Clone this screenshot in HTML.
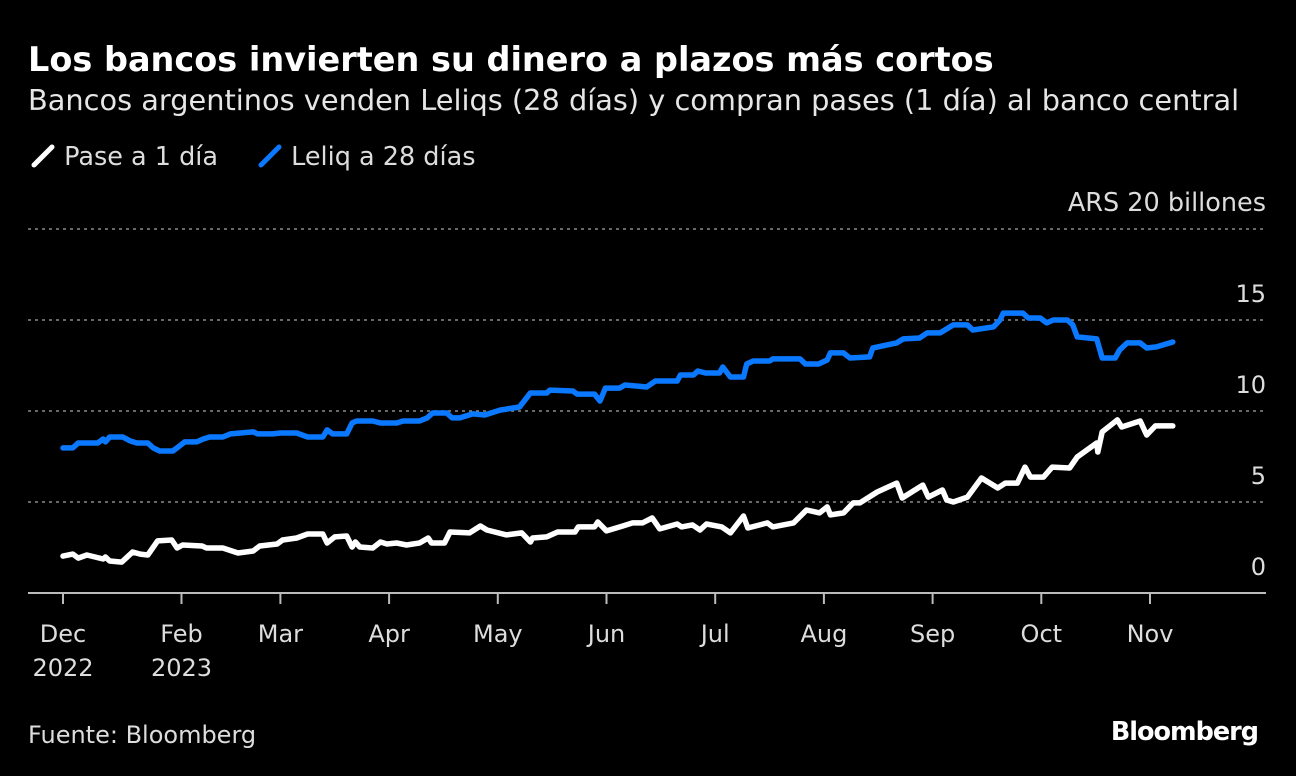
<!DOCTYPE html>
<html><head><meta charset="utf-8"><style>
body{margin:0;background:#000;width:1296px;height:776px;overflow:hidden;font-family:"DejaVu Sans",sans-serif;color:#e6e6e6}
.t{position:absolute;white-space:nowrap}
</style></head><body>
<div class="t" style="left:28px;top:40px;font-size:33.5px;font-weight:bold;color:#fff">Los bancos invierten su dinero a plazos más cortos</div>
<div class="t" style="left:28px;top:83px;font-size:28.8px;color:#e6e6e6">Bancos argentinos venden Leliqs (28 días) y compran pases (1 día) al banco central</div>
<div class="t" style="left:30px;top:142px;font-size:25.5px;color:#ddd"><svg width="26" height="26" style="vertical-align:-4px"><line x1="4" y1="22" x2="22" y2="4" stroke="#fff" stroke-width="5" stroke-linecap="round"/></svg> Pase a 1 día</div>
<div class="t" style="left:257px;top:142px;font-size:25.5px;color:#ddd"><svg width="26" height="26" style="vertical-align:-4px"><line x1="4" y1="22" x2="22" y2="4" stroke="#0a78ff" stroke-width="5" stroke-linecap="round"/></svg> Leliq a 28 días</div>
<svg id="chart" width="1296" height="776" style="position:absolute;left:0;top:0"></svg>
<div class="t" style="left:28px;top:721px;font-size:24px;color:#ddd">Fuente: Bloomberg</div>
<div class="t" style="right:38px;top:717px;font-size:25.5px;font-weight:bold;color:#fff;letter-spacing:-1px">Bloomberg</div>
<script>
const monthLabels=["Dec","Feb","Mar","Apr","May","Jun","Jul","Aug","Sep","Oct","Nov"];
const yearLabels=["2022","2023","","","","","","","","",""];
const monthTicks=[0,1.09,2,3,4,5,6,7,8,9,10];
const yTicks=[0,5,10,15,20];
const paseT=[0,.09,.14,.22,.37,.39,.43,.54,.64,.71,.78,.87,1.00,1.05,1.10,1.28,1.32,1.47,1.61,1.75,1.81,1.97,2.02,2.15,2.25,2.39,2.43,2.50,2.61,2.66,2.69,2.73,2.85,2.92,2.98,3.07,3.16,3.28,3.36,3.39,3.51,3.56,3.74,3.84,3.90,4.08,4.22,4.30,4.32,4.45,4.55,4.71,4.74,4.89,4.92,5.00,5.15,5.24,5.33,5.42,5.49,5.65,5.69,5.79,5.86,5.92,6.06,6.14,6.26,6.30,6.48,6.53,6.72,6.84,6.96,7.03,7.06,7.18,7.27,7.33,7.49,7.67,7.72,7.91,7.96,8.09,8.13,8.19,8.32,8.45,8.60,8.67,8.78,8.85,8.90,9.02,9.10,9.26,9.33,9.51,9.52,9.56,9.70,9.74,9.91,9.97,10.05,10.21];
const paseV=[2.03,2.14,1.92,2.09,1.87,1.98,1.76,1.70,2.25,2.14,2.09,2.86,2.91,2.47,2.64,2.58,2.47,2.47,2.20,2.31,2.58,2.69,2.91,3.02,3.24,3.24,2.75,3.08,3.13,2.53,2.80,2.53,2.47,2.80,2.69,2.75,2.64,2.75,3.02,2.75,2.75,3.35,3.30,3.68,3.46,3.19,3.30,2.80,3.02,3.08,3.35,3.35,3.63,3.63,3.90,3.41,3.68,3.85,3.85,4.12,3.52,3.79,3.63,3.74,3.46,3.79,3.63,3.30,4.23,3.57,3.85,3.63,3.85,4.56,4.40,4.73,4.29,4.40,4.95,4.95,5.55,6.04,5.22,5.93,5.27,5.66,5.11,5.00,5.27,6.32,5.77,6.04,6.04,6.92,6.37,6.37,6.92,6.87,7.47,8.24,7.75,8.85,9.51,9.12,9.45,8.68,9.18,9.18];
const leliqT=[0,.09,.14,.32,.37,.39,.43,.55,.62,.68,.78,.83,.89,1.01,1.06,1.12,1.23,1.29,1.35,1.47,1.54,1.75,1.79,1.93,2.00,2.15,2.25,2.39,2.43,2.48,2.61,2.66,2.70,2.85,2.92,3.07,3.13,3.28,3.35,3.40,3.53,3.58,3.65,3.77,3.88,4.02,4.20,4.30,4.45,4.48,4.69,4.73,4.89,4.94,4.99,5.12,5.17,5.37,5.45,5.65,5.68,5.80,5.84,5.91,6.04,6.07,6.14,6.26,6.29,6.35,6.50,6.53,6.78,6.83,6.95,7.03,7.06,7.18,7.24,7.42,7.45,7.67,7.73,7.88,7.95,8.07,8.19,8.32,8.37,8.56,8.62,8.65,8.83,8.88,8.99,9.05,9.11,9.24,9.29,9.33,9.51,9.56,9.68,9.72,9.79,9.91,9.97,10.06,10.21];
const leliqV=[7.97,7.97,8.24,8.24,8.46,8.30,8.57,8.57,8.35,8.24,8.24,7.97,7.80,7.80,8.02,8.30,8.30,8.46,8.57,8.57,8.74,8.85,8.74,8.74,8.79,8.79,8.57,8.57,8.96,8.74,8.74,9.34,9.45,9.45,9.34,9.34,9.45,9.45,9.62,9.89,9.89,9.62,9.62,9.84,9.78,10.05,10.22,10.99,10.99,11.15,11.10,10.93,10.93,10.55,11.26,11.26,11.43,11.32,11.65,11.65,11.98,11.98,12.20,12.09,12.09,12.42,11.87,11.87,12.58,12.75,12.75,12.86,12.86,12.58,12.58,12.80,13.19,13.19,12.91,12.97,13.46,13.74,13.96,14.01,14.29,14.29,14.73,14.73,14.45,14.62,15.00,15.38,15.38,15.11,15.11,14.84,15.00,15.00,14.73,14.07,13.96,12.91,12.91,13.35,13.74,13.74,13.46,13.52,13.79];

const svg=document.getElementById('chart');
const NS="http://www.w3.org/2000/svg";
const x0=63,xStep=108.7,yBase=593,yUnit=18.2,left=28,right=1266;
function xs(t){return x0+t*xStep;}
function ys(v){return yBase-v*yUnit;}
function mk(tag,attrs){const e=document.createElementNS(NS,tag);for(const k in attrs)e.setAttribute(k,attrs[k]);svg.appendChild(e);return e;}
yTicks.forEach(v=>{
  if(v>0){const g=mk('line',{x1:left,x2:right,y1:ys(v),y2:ys(v),stroke:'#8a8a8a','stroke-width':1.5,'stroke-dasharray':'3,4'});
  
  }
  const t=mk('text',{x:right,y:ys(v)-18,'text-anchor':'end','font-size':v===20?25.5:24,fill:'#ddd','font-family':'DejaVu Sans, sans-serif'});
  t.textContent=v===20?'ARS 20 billones':String(v);
  
  
});
const ax=mk('line',{x1:left,x2:right,y1:yBase,y2:yBase,stroke:'#bbb','stroke-width':2});


monthTicks.forEach((t,i)=>{
  const tk=mk('line',{x1:xs(t),x2:xs(t),y1:yBase,y2:yBase+11,stroke:'#bbb','stroke-width':2});
  
  
  const l=mk('text',{x:xs(t),y:642,'text-anchor':'middle','font-size':24,fill:'#ddd','font-family':'DejaVu Sans, sans-serif'});
  l.textContent=monthLabels[i];
  
  
  if(yearLabels[i]){const y=mk('text',{x:xs(t),y:676,'text-anchor':'middle','font-size':24,fill:'#ddd','font-family':'DejaVu Sans, sans-serif'});
  y.textContent=yearLabels[i];
  
  }
});
function line(T,V,color,name){
  const d=T.map((t,i)=>(i?'L':'M')+xs(t).toFixed(1)+','+ys(V[i]).toFixed(1)).join('');
  const p=mk('path',{d:d,fill:'none',stroke:color,'stroke-width':5.5,'stroke-linejoin':'round','stroke-linecap':'round'});
  
  
}
line(leliqT,leliqV,'#0a78ff','leliq-line');
line(paseT,paseV,'#ffffff','pase-line');
</script>
</body></html>
